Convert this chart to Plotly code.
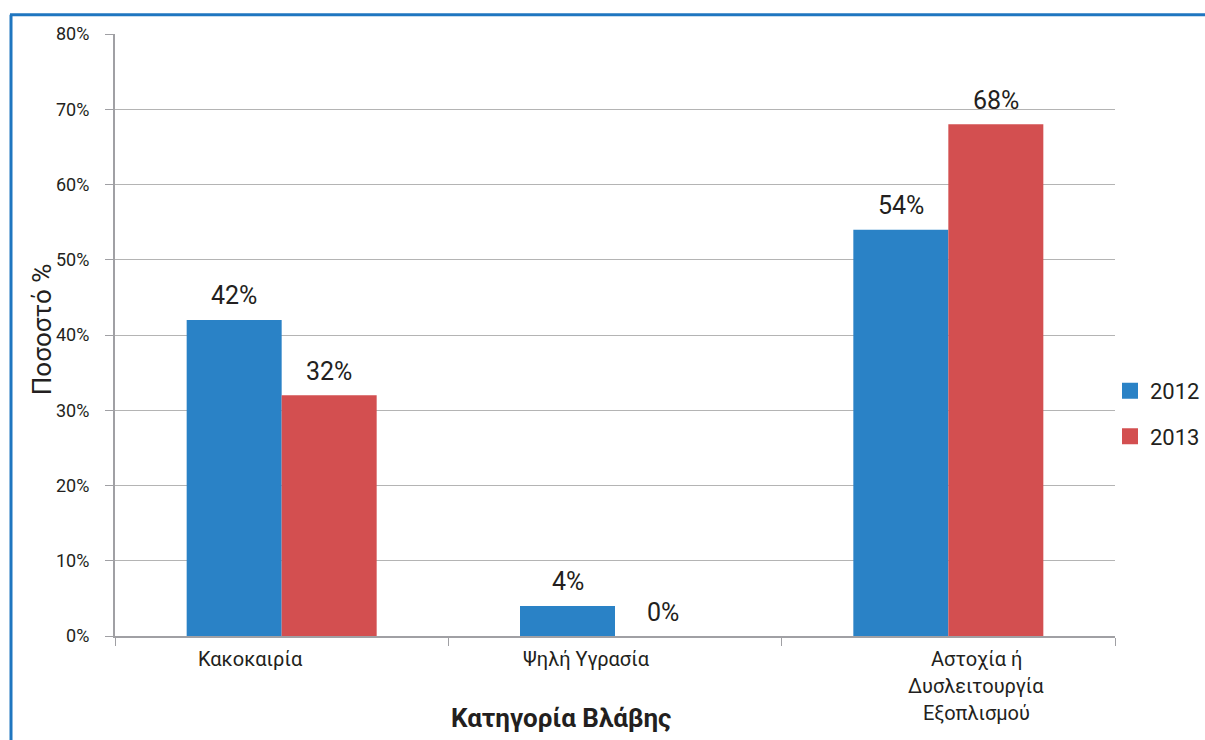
import plotly.graph_objects as go

categories = ["Κακοκαιρία", "Ψηλή Υγρασία", "Αστοχία ή Δυσλειτουργία Εξοπλισμού"]
label_lines = [["Κακοκαιρία"], ["Ψηλή Υγρασία"], ["Αστοχία ή", "Δυσλειτουργία", "Εξοπλισμού"]]
label_xshift = [-31, -29, 28]
series_names = ["2012", "2013"]
values_2012 = [42, 4, 54]
values_2013 = [32, 0, 68]
colors = ["#2A82C6", "#D34F50"]
y_ticks = [0, 10, 20, 30, 40, 50, 60, 70, 80]
y_ticktext = [f"{v}%" for v in y_ticks]

FONT = "Roboto"
TXT = "#231F20"

fig = go.Figure()
for name, vals, col in zip(series_names, [values_2012, values_2013], colors):
    fig.add_trace(go.Bar(x=categories, y=vals, name=name, marker=dict(color=col, line=dict(width=0)),
                         showlegend=False, hoverinfo="y+name"))
# legend entries (larger squares)
for name, col in zip(series_names, colors):
    fig.add_trace(go.Scatter(x=[None], y=[None], mode="markers", name=name, legendgroup=name,
                             marker=dict(symbol="square", size=16, color=col)))

annotations = []
# value labels
for vals, xs in [(values_2012, -47.5), (values_2013, 47.5)]:
    for c, v in zip(categories, vals):
        annotations.append(dict(x=c, y=v, xref="x", yref="y", text=f"{v}%", showarrow=False,
                                xshift=xs, yshift=24, xanchor="center", yanchor="middle",
                                font=dict(size=25, color=TXT, family=FONT)))
# category labels
for c, lines, xs in zip(categories, label_lines, label_xshift):
    for j, line in enumerate(lines):
        annotations.append(dict(x=c, y=0, xref="x", yref="paper", text=line, showarrow=False,
                                xshift=xs, yshift=-23 - 27 * j, xanchor="center", yanchor="middle",
                                font=dict(size=20, color=TXT, family=FONT)))
# axis titles
annotations.append(dict(x=-0.073, y=0.508, xref="paper", yref="paper", text="Ποσοστό %",
                        textangle=-90, showarrow=False, xanchor="center", yanchor="middle",
                        font=dict(size=26, color=TXT, family=FONT)))
annotations.append(dict(x=0.446, y=-0.136, xref="paper", yref="paper", text="<b>Κατηγορία Βλάβης</b>",
                        showarrow=False, xanchor="center", yanchor="middle",
                        font=dict(size=26, color=TXT, family=FONT)))

fig.update_layout(
    width=1205, height=740,
    margin=dict(l=115, r=90, t=34, b=104, autoexpand=False),
    paper_bgcolor="white", plot_bgcolor="white",
    barmode="group", bargap=0.43, bargroupgap=0,
    font=dict(family=FONT, color=TXT),
    annotations=annotations,
    legend=dict(x=0.995, y=0.369, xanchor="left", yanchor="middle", tracegroupgap=14,
                font=dict(size=22, color=TXT, family=FONT), bgcolor="rgba(0,0,0,0)"),
    xaxis=dict(showticklabels=False, tickson="boundaries", ticks="outside", ticklen=8,
               tickcolor="#A0A0A4", showline=True, linecolor="#A0A0A4", linewidth=2,
               showgrid=False, zeroline=False),
    yaxis=dict(range=[0, 80], tickmode="array", tickvals=y_ticks, ticktext=y_ticktext,
               ticks="outside", ticklen=8,
               tickcolor="#A0A0A4", showline=True, linecolor="#A0A0A4", linewidth=2,
               showgrid=True, gridcolor="#B4B4B4", gridwidth=1, zeroline=False,
               tickfont=dict(size=18, color=TXT, family=FONT), ticklabelstandoff=12),
    shapes=[
        dict(type="line", xref="paper", yref="paper", x0=-0.104, x1=-0.104, y0=-0.2, y1=1.032,
             line=dict(color="#1F76C0", width=3)),
        dict(type="line", xref="paper", yref="paper", x0=-0.105, x1=1.1, y0=1.032, y1=1.032,
             line=dict(color="#1F76C0", width=3)),
    ],
)

fig.write_html("out.html", config={"displayModeBar": False},
               post_script="document.body.style.margin='0';")
